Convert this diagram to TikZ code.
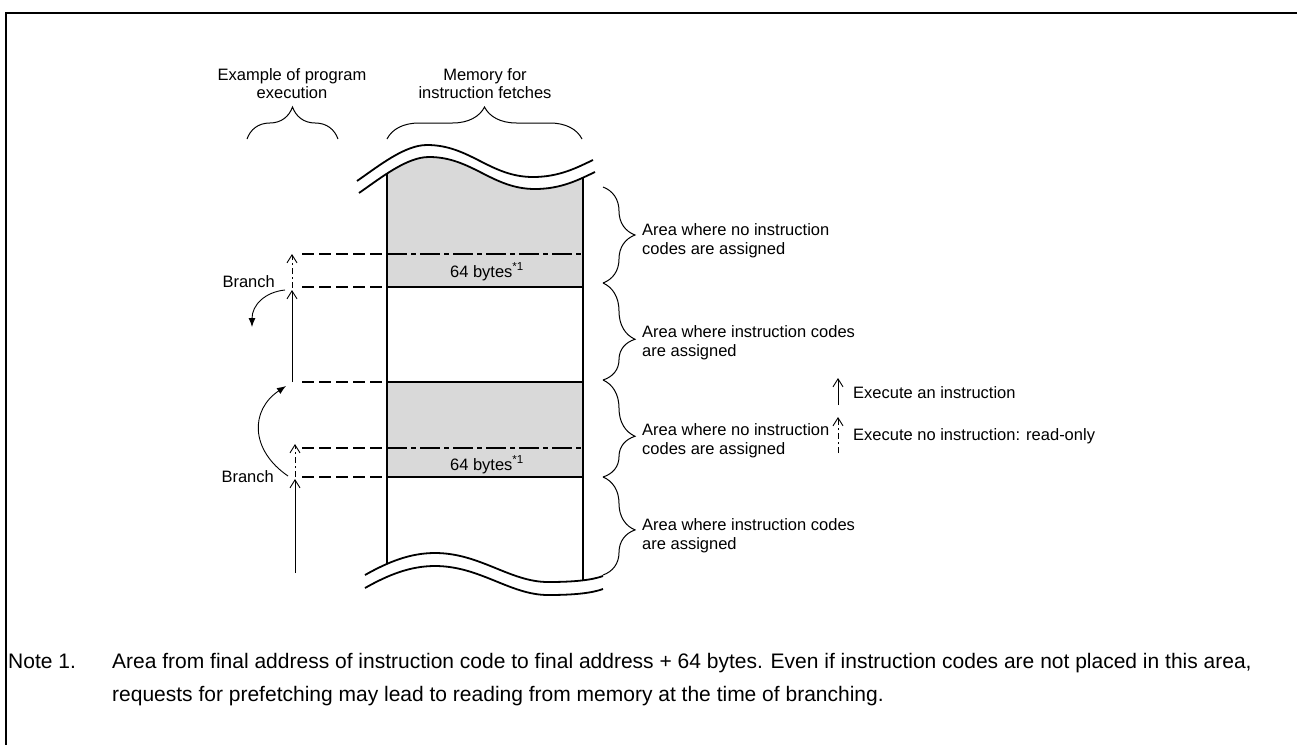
\documentclass[tikz,border=0pt]{standalone}
\usepackage{fontspec}
\setmainfont{Liberation Sans}
\usetikzlibrary{decorations.pathreplacing,arrows.meta}
\definecolor{memgray}{RGB}{217,217,217}
\begin{document}
\begin{tikzpicture}[x=1pt,y=-1pt,
  lbl/.style={font=\fontsize{16.5}{19.5}\selectfont, inner sep=0pt, align=left},
  hdr/.style={font=\fontsize{16.5}{18}\selectfont, inner sep=0pt, align=center, anchor=north},
  notetxt/.style={font=\fontsize{21}{33}\selectfont, inner sep=0pt, align=left},
  memline/.style={line width=1.8pt},
  waveline/.style={line width=1.8pt},
  bnd/.style={line width=1.6pt},
  dashl/.style={line width=1.4pt, dash pattern=on 12pt off 5pt},
  dashdotl/.style={line width=1.4pt, dash pattern=on 20pt off 4pt on 5pt off 4pt},
  tipopen/.style={-{Straight Barb[length=8pt,width=10pt,line width=0.9pt]}},
  exec/.style={line width=0.9pt, tipopen},
  noexec/.style={line width=0.9pt, dash pattern=on 6pt off 3pt on 2pt off 3pt, tipopen},
  branch/.style={line width=0.9pt, -{Latex[length=9pt,width=7pt]}},
  bracetop/.style={decorate, decoration={brace, amplitude=32pt}, line width=1pt},
  braceright/.style={decorate, decoration={brace, amplitude=32pt, aspect=#1}, line width=1pt},
  braceright/.default=0.5
]
\useasboundingbox (0,0) rectangle (1297,745);

% frame
\draw[line width=2.5pt] (1297,13) -- (6,13) -- (6,745);

% headers
\node[hdr] (hexec) at (292,68) {Example of program\\execution};
\node[hdr] (hmem) at (485,68) {Memory for\\instruction fetches};
\draw[bracetop] (247,139) -- (338,139);
\draw[bracetop] (387,139) -- (582,139);

% memory body (clipped between the wavy breaks)
\begin{scope}
  \clip (359,193) .. controls (382,177) and (407,157) .. (429,157)
        .. controls (472,157) and (492,189) .. (535,189)
        .. controls (562,189) and (580,179) .. (595,172)
        -- (603,576)
        .. controls (592,580) and (575,582) .. (548,582)
        .. controls (510,582) and (480,553) .. (435,553)
        .. controls (410,553) and (388,562) .. (365,575) -- cycle;
  \fill[memgray] (387,140) rectangle (583,287);
  \fill[memgray] (387,382) rectangle (583,477);
  \draw[memline] (387,140) -- (387,600);
  \draw[memline] (583,140) -- (583,600);
  \draw[bnd] (387,287) -- (583,287);
  \draw[bnd] (387,382) -- (583,382);
  \draw[bnd] (387,477) -- (583,477);
  \draw[dashdotl] (387,254) -- (583,254);
  \draw[dashdotl] (387,448) -- (583,448);
\end{scope}

% wavy breaks
\draw[waveline] (357,181) .. controls (380,165) and (405,145) .. (427,145)
   .. controls (470,145) and (490,177) .. (533,177)
   .. controls (560,177) and (578,167) .. (593,160);
\draw[waveline] (359,193) .. controls (382,177) and (407,157) .. (429,157)
   .. controls (472,157) and (492,189) .. (535,189)
   .. controls (562,189) and (580,179) .. (595,172);
\draw[waveline] (365,575) .. controls (388,562) and (410,553) .. (435,553)
   .. controls (480,553) and (510,582) .. (548,582)
   .. controls (575,582) and (592,580) .. (603,576);
\draw[waveline] (365,588) .. controls (388,575) and (410,566) .. (435,566)
   .. controls (480,566) and (510,595) .. (548,595)
   .. controls (575,595) and (592,593) .. (603,589);

% dashed guide lines to the left
\draw[dashl] (302,254) -- (387,254);
\draw[dashl] (302,287) -- (387,287);
\draw[dashl] (302,382) -- (387,382);
\draw[dashl] (302,448) -- (387,448);
\draw[dashl] (302,477) -- (387,477);

% labels inside memory
\node[lbl, anchor=base] (b64a) at (487,277) {64 bytes\textsuperscript{*1}};
\node[lbl, anchor=base] (b64b) at (487,470) {64 bytes\textsuperscript{*1}};

% program execution arrows
\coordinate (ua0) at (292,382);
\coordinate (ua1) at (292,290);
\coordinate (ud0) at (292,288);
\coordinate (ud1) at (292,254);
\coordinate (la0) at (295,573);
\coordinate (la1) at (295,479);
\coordinate (ld0) at (295,477);
\coordinate (ld1) at (295,444);
\draw[exec] (ua0) -- (ua1);
\draw[noexec] (ud0) -- (ud1);
\draw[exec] (la0) -- (la1);
\draw[noexec] (ld0) -- (ld1);

\node[lbl, anchor=base east] (br1) at (275,287) {Branch};
\node[lbl, anchor=base east] (br2) at (274,482) {Branch};

\coordinate (c1s) at (285,290);
\coordinate (c1e) at (252,327);
\draw[branch] (c1s) .. controls (265,292) and (252,305) .. (c1e);
\coordinate (c2s) at (288,476);
\coordinate (c2e) at (286,386);
\draw[branch] (c2s) .. controls (250,450) and (250,410) .. (c2e);

% right braces and labels
\draw[braceright=0.5] (603,187) -- (603,283);
\draw[braceright=0.58] (603,283) -- (603,380);
\draw[braceright=0.58] (603,380) -- (603,477);
\draw[braceright=0.54] (603,477) -- (603,575);
\node[lbl, anchor=north west] (r1) at (642,223) {Area where no instruction\\codes are assigned};
\node[lbl, anchor=north west] (r2) at (642,325) {Area where instruction codes\\are assigned};
\node[lbl, anchor=north west] (r3) at (642,423) {Area where no instruction\\codes are assigned};
\node[lbl, anchor=north west] (r4) at (642,518) {Area where instruction codes\\are assigned};

% legend
\coordinate (le0) at (838,405);
\coordinate (le1) at (838,378);
\coordinate (ln0) at (838,453);
\coordinate (ln1) at (838,417);
\draw[exec] (le0) -- (le1);
\draw[noexec] (ln0) -- (ln1);
\node[lbl, anchor=base west] (t1) at (853,398) {Execute an instruction};
\node[lbl, anchor=base west] (t2) at (853,440) {Execute no instruction: read-only};

% note
\node[notetxt, anchor=base west] (nlab) at (8,668) {Note 1.};
\node[notetxt, anchor=north west] (ntxt) at (112,653) {Area from final address of instruction code to final address + 64 bytes. Even if instruction codes are not placed in this area,\\requests for prefetching may lead to reading from memory at the time of branching.};
\end{tikzpicture}
\end{document}
